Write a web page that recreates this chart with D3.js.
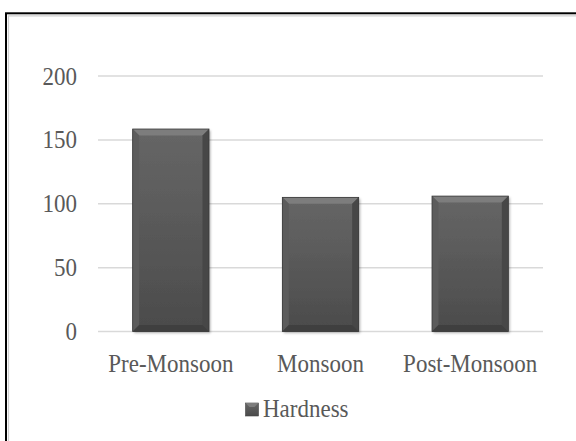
<!DOCTYPE html>
<html>
<head>
<meta charset="utf-8">
<script src="https://cdn.jsdelivr.net/npm/d3@7"></script>
<style>
  html, body { margin: 0; padding: 0; background: #fff; }
  svg { display: block; }
  svg text { font-family: "Liberation Serif", "Times New Roman", Times, serif; }
</style>
</head>
<body>
<svg id="chart" width="576" height="441"></svg>
<script>
const categories = ["Pre-Monsoon", "Monsoon", "Post-Monsoon"];
const hardness = [158.5, 105, 106];
const yTicks = [0, 50, 100, 150, 200];
const seriesName = "Hardness";

const W = 576, H = 441;
const svg = d3.select("#chart");
const textColor = "#595959";
const fs = 23, sy = 1.12;

const defs = svg.append("defs");
const grad = defs.append("linearGradient").attr("id", "barGrad")
  .attr("x1", 0).attr("y1", 0).attr("x2", 0).attr("y2", 1);
grad.append("stop").attr("offset", "0%").attr("stop-color", "#666666");
grad.append("stop").attr("offset", "100%").attr("stop-color", "#4b4b4b");
const f = defs.append("filter").attr("id", "shadow")
  .attr("x", "-10%").attr("y", "-10%").attr("width", "130%").attr("height", "130%");
f.append("feDropShadow").attr("dx", 1.5).attr("dy", 1.5).attr("stdDeviation", 1.2)
  .attr("flood-color", "#000").attr("flood-opacity", 0.3);

// frame
svg.append("rect").attr("x", 6).attr("y", 13.3).attr("width", 700).attr("height", 600)
  .attr("fill", "none").attr("stroke", "#000").attr("stroke-width", 2);
svg.append("path").attr("d", `M8.5,700 V15.8 H700`).attr("fill", "none")
  .attr("stroke", "#cfcfcf").attr("stroke-width", 1.2);

const x = d3.scaleBand().domain(categories).range([96, 545]).paddingInner(0.49).paddingOuter(0.245);
const y = d3.scaleLinear().domain([0, 200]).range([331.5, 76]);

// gridlines
svg.append("g").selectAll("line").data(yTicks).join("line")
  .attr("x1", 98).attr("x2", 543)
  .attr("y1", d => y(d)).attr("y2", d => y(d))
  .attr("stroke", "#d9d9d9").attr("stroke-width", 1.5);

// y labels
svg.append("g").selectAll("text").data(yTicks).join("text")
  .attr("transform", d => `translate(77,${y(d) + 8.5}) scale(1,${sy})`)
  .attr("text-anchor", "end")
  .attr("font-size", fs).attr("fill", textColor)
  .text(d => d);

// bars
const b = 6.5;
const bars = svg.append("g").selectAll("g").data(categories.map((c, i) => ({c, v: hardness[i]}))).join("g");
bars.append("rect")
  .attr("x", d => x(d.c)).attr("y", d => y(d.v))
  .attr("width", x.bandwidth()).attr("height", d => y(0) - y(d.v))
  .attr("fill", "url(#barGrad)").attr("filter", "url(#shadow)");
bars.append("path").attr("fill", "#7d7d7d").attr("d", d => {
  const x0 = x(d.c), x1 = x0 + x.bandwidth(), y0 = y(d.v);
  return `M${x0},${y0}H${x1}L${x1 - b},${y0 + b}H${x0 + b}Z`;
});
bars.append("path").attr("fill", "#5c5c5c").attr("d", d => {
  const x0 = x(d.c), y0 = y(d.v), y1 = y(0);
  return `M${x0},${y0}L${x0 + b},${y0 + b}V${y1 - b}L${x0},${y1}Z`;
});
bars.append("path").attr("fill", "#474747").attr("d", d => {
  const x1 = x(d.c) + x.bandwidth(), y0 = y(d.v), y1 = y(0);
  return `M${x1},${y0}L${x1 - b},${y0 + b}V${y1 - b}L${x1},${y1}Z`;
});
bars.append("path").attr("fill", "#3f3f3f").attr("d", d => {
  const x0 = x(d.c), x1 = x0 + x.bandwidth(), y1 = y(0);
  return `M${x0},${y1}H${x1}L${x1 - b},${y1 - b}H${x0 + b}Z`;
});
bars.append("rect")
  .attr("x", d => x(d.c)).attr("y", d => y(d.v))
  .attr("width", x.bandwidth()).attr("height", d => y(0) - y(d.v))
  .attr("fill", "none").attr("stroke", "#3a3a3a").attr("stroke-width", 0.8);

// x labels
svg.append("g").selectAll("text").data(categories).join("text")
  .attr("transform", d => `translate(${x(d) + x.bandwidth() / 2},371.5) scale(1,${sy})`)
  .attr("text-anchor", "middle")
  .attr("font-size", fs).attr("fill", textColor)
  .text(d => d);

// legend
const lg = svg.append("g");
lg.append("rect").attr("x", 245.5).attr("y", 403).attr("width", 13).attr("height", 13)
  .attr("fill", "url(#barGrad)").attr("stroke", "#444").attr("stroke-width", 0.6);
lg.append("path").attr("fill", "#7d7d7d").attr("d", "M245.5,403H258.5L254.5,407H249.5Z");
lg.append("text")
  .attr("transform", `translate(263,416.5) scale(1,${sy})`)
  .attr("font-size", fs).attr("fill", textColor)
  .text(seriesName);
</script>
</body>
</html>
